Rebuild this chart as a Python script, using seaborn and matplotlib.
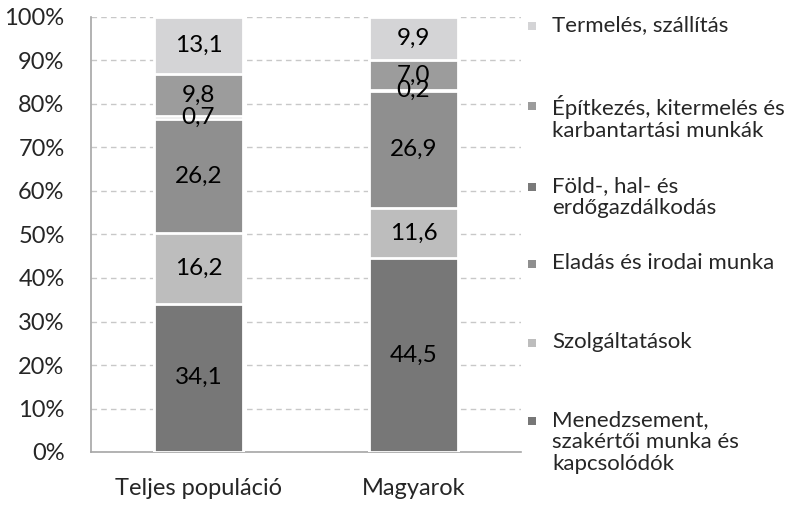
import numpy as np
import pandas as pd
import matplotlib.pyplot as plt
import seaborn as sns
from matplotlib.patches import Rectangle

# Data (percent shares)
groups = ['Teljes populáció', 'Magyarok']
categories = ['Menedzsement,\nszakértői munka és\nkapcsolódók',
              'Szolgáltatások',
              'Eladás és irodai munka',
              'Föld-, hal- és\nerdőgazdálkodás',
              'Építkezés, kitermelés és\nkarbantartási munkák',
              'Termelés, szállítás']
teljes = [34.1, 16.2, 26.2, 0.7, 9.8, 13.1]
magyarok = [44.5, 11.6, 26.9, 0.2, 7.0, 9.9]
colors = ['#777777', '#bdbdbd', '#8f8f8f', '#7a7a7a', '#9c9c9c', '#d4d4d6']

sns.set_style('white')
plt.rcParams['font.family'] = ['Lato', 'DejaVu Sans']
fs = 16

df = pd.DataFrame({'Teljes populáció': teljes, 'Magyarok': magyarok}, index=categories)
cum = df.cumsum()

fig = plt.figure(figsize=(7.89, 5.09), dpi=100)
ax = fig.add_axes([91 / 789, 1 - 452 / 509, (521 - 91) / 789, (452 - 17) / 509])

# stacked bars: draw cumulative totals from the top down
for i in range(len(categories) - 1, -1, -1):
    sns.barplot(x=groups, y=cum.iloc[i].values, color=colors[i], width=0.41,
                edgecolor='white', linewidth=2, saturation=1, ax=ax, zorder=3)

# value labels in the middle of each segment
for j, g in enumerate(groups):
    bottom = 0
    for i, cat in enumerate(categories):
        v = df.loc[cat, g]
        ax.text(j, bottom + v / 2, f'{v:.1f}'.replace('.', ','), ha='center', va='center',
                fontsize=17.5, color='black', zorder=5)
        bottom += v

ax.set_ylim(0, 100)
ax.set_xlim(-0.5, 1.5)
ax.set_yticks(np.arange(0, 101, 10))
ax.set_yticklabels([f'{t}%' for t in range(0, 101, 10)], fontsize=17)
ax.set_xticks([0, 1])
ax.set_xticklabels(groups, fontsize=17)
ax.set_xticks([-0.5, 0.5, 1.5], minor=True)
ax.tick_params(axis='x', which='major', length=0, pad=19)
ax.tick_params(axis='x', which='minor', length=6, color='#a6a6a6', width=1.2)
ax.tick_params(axis='y', length=6, color='#a6a6a6', width=1.2, pad=13)
ax.yaxis.grid(True, linestyle=(0, (4, 3)), color='#c8c8c8', linewidth=1)
ax.set_axisbelow(True)
for s in ['top', 'right']:
    ax.spines[s].set_visible(False)
for s in ['left', 'bottom']:
    ax.spines[s].set_color('#a6a6a6')
    ax.spines[s].set_linewidth(1.2)
ax.set_xlabel('')
ax.set_ylabel('')

# legend placed like the original (top entry first)
leg_y = [26, 106, 187, 264, 343, 421]
order = [5, 4, 3, 2, 1, 0]
W, H = 789, 509
for y, i in zip(leg_y, order):
    fig.patches.append(Rectangle((528 / W, 1 - (y + 4) / H), 8 / W, 8 / H,
                                 transform=fig.transFigure, facecolor=colors[i],
                                 edgecolor='none'))
    fig.text(552 / W, 1 - (y - 11) / H, categories[i], ha='left', va='top',
             fontsize=fs, linespacing=1.12)

fig.savefig('out.png', dpi=100)
